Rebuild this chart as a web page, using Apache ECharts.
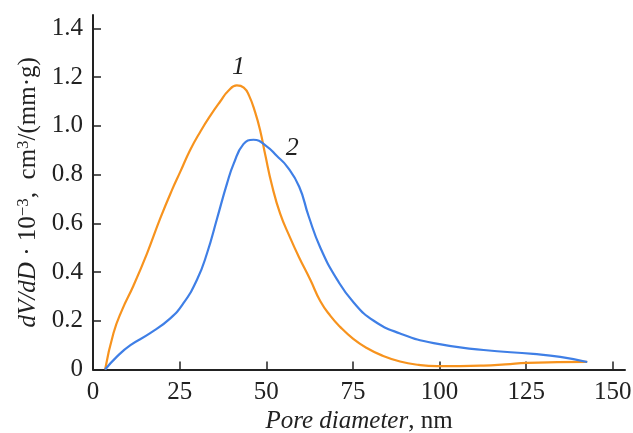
<!DOCTYPE html>
<html>
<head>
<meta charset="utf-8">
<script src="https://cdn.jsdelivr.net/npm/echarts@6/dist/echarts.min.js"></script>
<style>
  html, body { margin: 0; padding: 0; background: #fff; }
  #chart { width: 633px; height: 433px; }
</style>
</head>
<body>
<div id="chart"></div>
<script>
// curve 1 (orange) and curve 2 (blue): [pore diameter nm, dV/dD]
const curve1 = [
  [3.5, 0], [5.9, 0.149], [8.4, 0.245], [11.7, 0.345], [15.6, 0.477], [19.4, 0.62],
  [22.8, 0.737], [25.2, 0.812], [28, 0.9], [31, 0.977], [34, 1.045], [36.7, 1.1],
  [39, 1.143], [41.5, 1.166], [43.5, 1.157], [45, 1.125], [46.8, 1.055], [48.3, 0.977],
  [49.7, 0.881], [51.6, 0.758], [54, 0.64], [56.9, 0.54], [59.3, 0.465], [62.7, 0.368],
  [65.6, 0.28], [68.5, 0.22], [71.3, 0.175], [75, 0.127], [79, 0.088], [83, 0.06],
  [88.6, 0.033], [94, 0.019], [99.3, 0.014], [106, 0.014], [112.7, 0.016],
  [119, 0.021], [125.3, 0.027], [134, 0.03], [142.6, 0.031]
];
const curve2 = [
  [3.5, 0], [6.9, 0.053], [10.8, 0.1], [16.5, 0.149], [22.3, 0.21], [26.1, 0.272],
  [30, 0.368], [32.9, 0.477], [35.8, 0.62], [38.7, 0.765], [40.6, 0.845], [43.4, 0.925],
  [46.3, 0.943], [50.2, 0.915], [53, 0.877], [56, 0.833], [59.5, 0.75], [62.2, 0.63],
  [65.6, 0.5], [70.4, 0.37], [75.2, 0.275], [81, 0.2], [88.6, 0.148], [98.3, 0.108],
  [112.7, 0.08], [127, 0.064], [134.8, 0.052], [142.6, 0.031]
];
const xTicks = [0, 25, 50, 75, 100, 125, 150];
const yTicks = [0, 0.2, 0.4, 0.6, 0.8, 1.0, 1.2, 1.4];
const curveNames = ['1', '2'];
const labelPos = [[42, 1.24], [57.5, 0.91]];

const font = '"Liberation Serif", "DejaVu Serif", serif';
const ink = '#222';
const chart = echarts.init(document.getElementById('chart'));

chart.setOption({
  animation: false,
  grid: { left: 93, right: 8, top: 15, bottom: 63.5, outerBoundsMode: 'none', containLabel: false },
  xAxis: {
    type: 'value',
    min: 0,
    max: 153.5,
    name: '{i|Pore diameter}{n|, nm}',
    nameLocation: 'middle',
    nameGap: 34,
    nameTextStyle: {
      rich: {
        i: { fontFamily: font, fontStyle: 'italic', fontSize: 25, color: ink },
        n: { fontFamily: font, fontSize: 25, color: ink }
      }
    },
    axisLine: { lineStyle: { color: ink, width: 2 } },
    axisTick: { inside: true, length: 8, customValues: xTicks, lineStyle: { color: ink, width: 1.5 } },
    axisLabel: { customValues: xTicks, fontFamily: font, fontSize: 25, color: ink, margin: 10 },
    splitLine: { show: false }
  },
  yAxis: {
    type: 'value',
    min: 0,
    max: 1.455,
    name: '{i|dV/dD}{n| · 10}{s|−3}{n|,  cm}{s|3}{n|/(mm·g)}',
    nameLocation: 'middle',
    nameGap: 47,
    nameTextStyle: {
      rich: {
        i: { fontFamily: font, fontStyle: 'italic', fontSize: 25, color: ink },
        n: { fontFamily: font, fontSize: 25, color: ink },
        s: { fontFamily: font, fontSize: 17, color: ink, verticalAlign: 'top', padding: [0, 0, 10, 0] }
      }
    },
    axisLine: { lineStyle: { color: ink, width: 2 } },
    axisTick: { inside: true, length: 8, customValues: yTicks, lineStyle: { color: ink, width: 1.5 } },
    axisLabel: {
      customValues: yTicks,
      fontFamily: font,
      fontSize: 25,
      color: ink,
      margin: 10,
      formatter: v => (v === 0 ? '0' : v.toFixed(1))
    },
    splitLine: { show: false }
  },
  series: [
    {
      name: curveNames[0],
      type: 'line',
      data: curve1,
      smooth: 0.5,
      showSymbol: false,
      lineStyle: { color: '#F7931E', width: 2.2 }
    },
    {
      name: curveNames[1],
      type: 'line',
      data: curve2,
      smooth: 0.5,
      showSymbol: false,
      lineStyle: { color: '#3F7FE6', width: 2.2 }
    },
    {
      // curve numbers
      type: 'scatter',
      silent: true,
      symbolSize: 1,
      itemStyle: { color: 'rgba(0,0,0,0)' },
      data: labelPos.map((p, i) => ({ value: p, name: curveNames[i] })),
      label: {
        show: true,
        position: 'inside',
        formatter: p => p.name,
        fontFamily: font,
        fontStyle: 'italic',
        fontSize: 26,
        color: ink,
        opacity: 1,
        textBorderWidth: 0
      }
    }
  ]
});
</script>
</body>
</html>
